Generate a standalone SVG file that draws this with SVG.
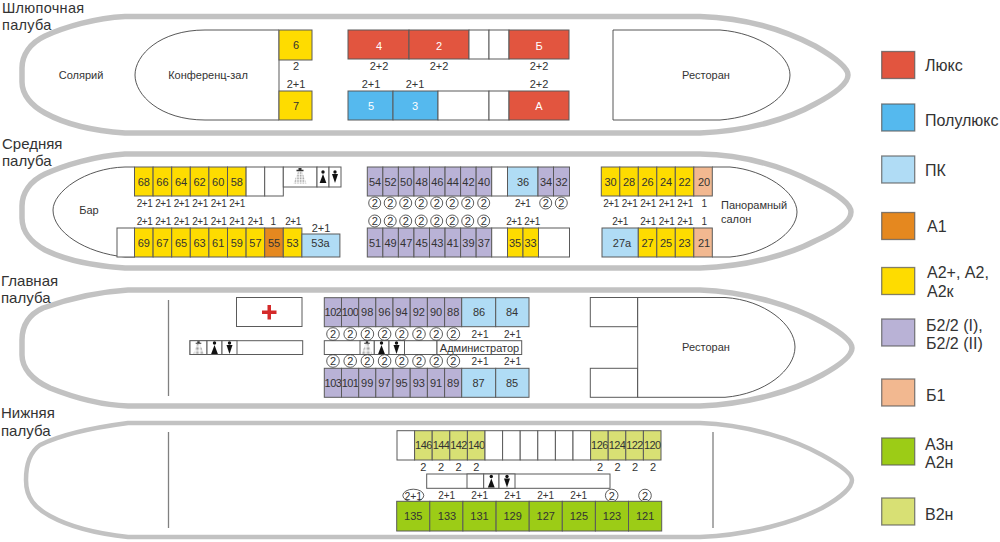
<svg xmlns="http://www.w3.org/2000/svg" width="1000" height="542" viewBox="0 0 1000 542">
<style>
text{font-family:"Liberation Sans",Arial,sans-serif;fill:#333;font-size:11px;text-anchor:middle}
.hull{fill:#fff;stroke:#c2c2c2;stroke-width:5.5}
.room{fill:#fff;stroke:#444;stroke-width:.9}
.line{fill:none;stroke:#808080;stroke-width:1.3}
rect{stroke:#5a5a5a;stroke-width:1}
.w{fill:#fff}.r{fill:#e2553f}.b{fill:#55b9ee}.p{fill:#b0dcf5}.o{fill:#e5881f}.y{fill:#fedc00}.v{fill:#b9b2d6}.s{fill:#f2b890}.g{fill:#9ccc16}.l{fill:#d8e074}
.sm{font-size:10px}
#sredn .sm{font-size:10px;letter-spacing:-.55px}
.ring+text,#sredn .ring+text{font-size:11px;letter-spacing:0}
.t{letter-spacing:-.6px}
.ring{fill:#fff;stroke:#333;stroke-width:.8}
.wt{fill:#fff}
.deck{font-size:15px;text-anchor:start}
.leg{font-size:16px;text-anchor:start}
.sw{stroke-width:1.3;stroke-opacity:.75}
</style>
<defs>
<pattern id="dots" width="1.6" height="1.6" patternUnits="userSpaceOnUse"><circle cx=".5" cy=".5" r=".45" fill="#777"/></pattern>
<g id="shower"><path d="M-1.5,1h3v1.8h2v1.4h-7v-1.4h2z" fill="#333"/><path d="M-2,4.5h4l4.5,12h-13z" fill="url(#dots)"/></g>
<g id="woman"><circle cx="0" cy="-5" r="1.7" fill="#111"/><path d="M0,-3l3.4,9h-6.8z" fill="#111"/></g>
<g id="man"><circle cx="0" cy="-5" r="1.7" fill="#111"/><path d="M-3,-3h6l-3,9z" fill="#111"/></g>
</defs>

<g id="hulls">
<path class="hull" d="M125,16.5H700C750,18 790,33 815,46C836,58 848,68 848,75C848,83 836,93 815,104C790,118 750,131 700,133H125C95,131 65,124 45,113C32,106 22,95 22,82V68C22,55 30,43 45,36C65,27 95,18 125,16.5Z"/>
<path class="hull" d="M125,154H700C750,155 790,170 815,183C840,195 851,205 851,212C851,220 840,230 815,241C790,254 750,266 700,268H125C95,266 65,260 45,250C32,243 22,232 22,218V206C22,193 30,181 45,174C65,165 95,156 125,154Z"/>
<path class="hull" d="M128,290H700C750,292 795,307 822,322C842,333 852,342 852,348C852,355 842,364 822,375C795,390 750,404 700,406H128C100,405 75,398 50,388C32,380 22,368 22,355V340C22,325 30,314 43,308C65,300 95,292 128,290Z"/>
<path class="hull" style="stroke-width:4.5" d="M128,423H700C750,425 795,440 822,455C842,466 852,474 852,480C852,487 842,497 822,508C795,522 750,535 700,537H128C100,534 70,527 50,516C35,508 26,498 26,480C26,465 30,452 40,445C60,435 90,428 128,423Z"/>
</g>

<g id="titles">
<text class="deck" style="font-size:14.5px;letter-spacing:.3px" x="2" y="13">Шлюпочная</text><text class="deck" style="font-size:14.5px;letter-spacing:.3px" x="2" y="29.5">палуба</text>
<text class="deck" x="2" y="149">Средняя</text><text class="deck" x="2" y="166">палуба</text>
<text class="deck" x="1" y="286">Главная</text><text class="deck" x="1" y="303">палуба</text>
<text class="deck" x="1" y="418">Нижняя</text><text class="deck" x="1" y="436">палуба</text>
</g>

<g id="shlyup">
<g id="conf"><path class="room" d="M279,30H205C160,30 135,55 135,75C135,95 160,120 205,120H279"/><path class="line" d="M279,30V120"/><text x="208" y="79">Конференц-зал</text></g>
<text id="solarium" x="81" y="79">Солярий</text>
<g id="c6"><rect class="y" x="279" y="30" width="33" height="30"/><text x="296" y="49">6</text></g>
<g id="c7"><rect class="y" x="279" y="91" width="33" height="29"/><text x="296" y="110">7</text></g>
<text x="296" y="70">2</text><text x="296" y="88">2+1</text>
<g id="c4"><rect class="r" x="348" y="30" width="61" height="29"/><text class="wt" x="379" y="50">4</text></g>
<g id="c2"><rect class="r" x="409" y="30" width="60" height="29"/><text class="wt" x="439" y="50">2</text></g>
<rect class="w" x="469" y="30" width="20" height="29"/><rect class="w" x="489" y="30" width="20" height="29"/>
<g id="cB"><rect class="r" x="509" y="30" width="60" height="29"/><text class="wt" x="539" y="50">Б</text></g>
<g id="c5"><rect class="b" x="348" y="91" width="45" height="29"/><text class="wt" x="371" y="110">5</text></g>
<g id="c3"><rect class="b" x="393" y="91" width="45" height="29"/><text class="wt" x="415" y="110">3</text></g>
<rect class="w" x="438" y="91" width="51" height="29"/><rect class="w" x="489" y="91" width="20" height="29"/>
<g id="cA"><rect class="r" x="509" y="91" width="60" height="29"/><text class="wt" x="539" y="110">А</text></g>
<text x="379" y="70">2+2</text><text x="439" y="70">2+2</text><text x="539" y="70">2+2</text>
<text x="371" y="88">2+1</text><text x="415" y="88">2+1</text><text x="539" y="88">2+2</text>
<g id="rest1"><path class="room" d="M613,30H720C760,33 790,55 790,75C790,97 760,117 720,120H613Z"/><text x="706" y="79">Ресторан</text></g>
</g>

<g id="sredn">
<g id="bar"><path class="room" d="M134.5,167H125C85,168 53,192 53,210C53,232 85,253 125,257H134.5"/><text x="89" y="214">Бар</text></g>
<g id="salon"><path class="room" d="M712,167H730C765,170 797,192 797,212C797,233 765,254 730,257H712"/><text style="text-anchor:start" x="721" y="209">Панорамный</text><text style="text-anchor:start" x="721" y="222.5">салон</text></g>
<g id="c68"><rect class="y" x="134.5" y="167" width="18.6" height="29"/><text x="143.8" y="185.5">68</text></g>
<g id="c66"><rect class="y" x="153.1" y="167" width="18.6" height="29"/><text x="162.4" y="185.5">66</text></g>
<g id="c64"><rect class="y" x="171.7" y="167" width="18.6" height="29"/><text x="181" y="185.5">64</text></g>
<g id="c62"><rect class="y" x="190.3" y="167" width="18.6" height="29"/><text x="199.6" y="185.5">62</text></g>
<g id="c60"><rect class="y" x="208.9" y="167" width="18.6" height="29"/><text x="218.2" y="185.5">60</text></g>
<g id="c58"><rect class="y" x="227.5" y="167" width="18.6" height="29"/><text x="236.8" y="185.5">58</text></g>
<rect class="w" x="246.1" y="167" width="18.6" height="29"/><rect class="w" x="264.7" y="167" width="18.6" height="29"/>
<g id="wc1"><rect class="w" x="283.3" y="167" width="33.7" height="20"/><use href="#shower" x="300" y="167"/><rect class="w" x="317" y="167" width="12" height="20"/><use href="#woman" x="323" y="177"/><rect class="w" x="329" y="167" width="12" height="20"/><use href="#man" x="335" y="177"/></g>
<rect class="w" x="117" y="228" width="17.5" height="29"/>
<g id="c69"><rect class="y" x="134.5" y="228" width="18.6" height="29"/><text x="143.8" y="246.5">69</text></g>
<g id="c67"><rect class="y" x="153.1" y="228" width="18.6" height="29"/><text x="162.4" y="246.5">67</text></g>
<g id="c65"><rect class="y" x="171.7" y="228" width="18.6" height="29"/><text x="181" y="246.5">65</text></g>
<g id="c63"><rect class="y" x="190.3" y="228" width="18.6" height="29"/><text x="199.6" y="246.5">63</text></g>
<g id="c61"><rect class="y" x="208.9" y="228" width="18.6" height="29"/><text x="218.2" y="246.5">61</text></g>
<g id="c59"><rect class="y" x="227.5" y="228" width="18.6" height="29"/><text x="236.8" y="246.5">59</text></g>
<g id="c57"><rect class="y" x="246.1" y="228" width="18.6" height="29"/><text x="255.4" y="246.5">57</text></g>
<g id="c55"><rect class="o" x="264.7" y="228" width="18.6" height="29"/><text x="274" y="246.5">55</text></g>
<g id="c53"><rect class="y" x="283.3" y="228" width="18.6" height="29"/><text x="292.6" y="246.5">53</text></g>
<g id="c53a"><rect class="p" x="301.9" y="234" width="38" height="23"/><text x="320.5" y="246.5">53а</text></g>
<text class="sm" x="144.5" y="207">2+1</text><text class="sm" x="163" y="207">2+1</text><text class="sm" x="181.5" y="207">2+1</text><text class="sm" x="200" y="207">2+1</text><text class="sm" x="218.5" y="207">2+1</text><text class="sm" x="237" y="207">2+1</text>
<text class="sm" x="144.5" y="225">2+1</text><text class="sm" x="163" y="225">2+1</text><text class="sm" x="181.5" y="225">2+1</text><text class="sm" x="200" y="225">2+1</text><text class="sm" x="218.5" y="225">2+1</text><text class="sm" x="237" y="225">2+1</text><text class="sm" x="255.5" y="225">2+1</text><text class="sm" x="273" y="225">1</text><text class="sm" x="293" y="225">2+1</text><text x="321" y="232">2+1</text>
<g id="c54"><rect class="v" x="367.3" y="167" width="15.55" height="29"/><text x="375.1" y="185.5">54</text></g>
<g id="c52"><rect class="v" x="382.85" y="167" width="15.55" height="29"/><text x="390.6" y="185.5">52</text></g>
<g id="c50"><rect class="v" x="398.4" y="167" width="15.55" height="29"/><text x="406.2" y="185.5">50</text></g>
<g id="c48"><rect class="v" x="413.95" y="167" width="15.55" height="29"/><text x="421.7" y="185.5">48</text></g>
<g id="c46"><rect class="v" x="429.5" y="167" width="15.55" height="29"/><text x="437.3" y="185.5">46</text></g>
<g id="c44"><rect class="v" x="445.05" y="167" width="15.55" height="29"/><text x="452.8" y="185.5">44</text></g>
<g id="c42"><rect class="v" x="460.6" y="167" width="15.55" height="29"/><text x="468.4" y="185.5">42</text></g>
<g id="c40"><rect class="v" x="476.15" y="167" width="15.55" height="29"/><text x="483.9" y="185.5">40</text></g>
<rect class="w" x="491.7" y="167" width="15.8" height="29"/>
<g id="c36"><rect class="p" x="507.5" y="167" width="30.5" height="29"/><text x="523" y="185.5">36</text></g>
<g id="c34"><rect class="v" x="538" y="167" width="15.5" height="29"/><text x="546" y="185.5">34</text></g>
<g id="c32"><rect class="v" x="553.5" y="167" width="16" height="29"/><text x="561.5" y="185.5">32</text></g>
<g id="c51"><rect class="v" x="367.3" y="228" width="15.55" height="29"/><text x="375.1" y="246.5">51</text></g>
<g id="c49"><rect class="v" x="382.85" y="228" width="15.55" height="29"/><text x="390.6" y="246.5">49</text></g>
<g id="c47"><rect class="v" x="398.4" y="228" width="15.55" height="29"/><text x="406.2" y="246.5">47</text></g>
<g id="c45"><rect class="v" x="413.95" y="228" width="15.55" height="29"/><text x="421.7" y="246.5">45</text></g>
<g id="c43"><rect class="v" x="429.5" y="228" width="15.55" height="29"/><text x="437.3" y="246.5">43</text></g>
<g id="c41"><rect class="v" x="445.05" y="228" width="15.55" height="29"/><text x="452.8" y="246.5">41</text></g>
<g id="c39"><rect class="v" x="460.6" y="228" width="15.55" height="29"/><text x="468.4" y="246.5">39</text></g>
<g id="c37"><rect class="v" x="476.15" y="228" width="15.55" height="29"/><text x="483.9" y="246.5">37</text></g>
<rect class="w" x="491.7" y="228" width="15.8" height="29"/>
<g id="c35"><rect class="y" x="507.5" y="228" width="15.5" height="29"/><text x="515" y="246.5">35</text></g>
<g id="c33"><rect class="y" x="523" y="228" width="15.5" height="29"/><text x="530.5" y="246.5">33</text></g>
<rect class="w" x="538.5" y="228" width="31" height="29"/>
<g id="rings-mid">
<circle class="ring" cx="374.7" cy="203" r="6"/><text x="374.7" y="207">2</text><circle class="ring" cx="390.2" cy="203" r="6"/><text x="390.2" y="207">2</text><circle class="ring" cx="405.7" cy="203" r="6"/><text x="405.7" y="207">2</text><circle class="ring" cx="421.2" cy="203" r="6"/><text x="421.2" y="207">2</text><circle class="ring" cx="436.7" cy="203" r="6"/><text x="436.7" y="207">2</text><circle class="ring" cx="452.2" cy="203" r="6"/><text x="452.2" y="207">2</text><circle class="ring" cx="467.7" cy="203" r="6"/><text x="467.7" y="207">2</text><circle class="ring" cx="483.7" cy="203" r="6"/><text x="483.7" y="207">2</text>
<circle class="ring" cx="374.7" cy="221" r="6"/><text x="374.7" y="225">2</text><circle class="ring" cx="390.2" cy="221" r="6"/><text x="390.2" y="225">2</text><circle class="ring" cx="405.7" cy="221" r="6"/><text x="405.7" y="225">2</text><circle class="ring" cx="421.2" cy="221" r="6"/><text x="421.2" y="225">2</text><circle class="ring" cx="436.7" cy="221" r="6"/><text x="436.7" y="225">2</text><circle class="ring" cx="452.2" cy="221" r="6"/><text x="452.2" y="225">2</text><circle class="ring" cx="467.7" cy="221" r="6"/><text x="467.7" y="225">2</text><circle class="ring" cx="483.7" cy="221" r="6"/><text x="483.7" y="225">2</text>
<circle class="ring" cx="545.7" cy="203" r="6"/><text x="545.7" y="207">2</text><circle class="ring" cx="561.3" cy="203" r="6"/><text x="561.3" y="207">2</text>
<text class="sm" x="522.7" y="207">2+1</text><text class="sm" x="514" y="225">2+1</text><text class="sm" x="532" y="225">2+1</text>
</g>
<g id="c30"><rect class="y" x="601.3" y="167" width="18.5" height="29"/><text x="610.5" y="185.5">30</text></g>
<g id="c28"><rect class="y" x="619.8" y="167" width="18.5" height="29"/><text x="629" y="185.5">28</text></g>
<g id="c26"><rect class="y" x="638.3" y="167" width="18.5" height="29"/><text x="647.5" y="185.5">26</text></g>
<g id="c24"><rect class="y" x="656.8" y="167" width="18.5" height="29"/><text x="666" y="185.5">24</text></g>
<g id="c22"><rect class="y" x="675.3" y="167" width="18.5" height="29"/><text x="684.5" y="185.5">22</text></g>
<g id="c20"><rect class="s" x="693.8" y="167" width="18.5" height="29"/><text x="704" y="185.5">20</text></g>
<g id="c27a"><rect class="p" x="602" y="228" width="36.3" height="29"/><text x="622" y="246.5">27а</text></g>
<g id="c27"><rect class="y" x="638.3" y="228" width="18.5" height="29"/><text x="647.5" y="246.5">27</text></g>
<g id="c25"><rect class="y" x="656.8" y="228" width="18.5" height="29"/><text x="666" y="246.5">25</text></g>
<g id="c23"><rect class="y" x="675.3" y="228" width="18.5" height="29"/><text x="684.5" y="246.5">23</text></g>
<g id="c21"><rect class="s" x="693.8" y="228" width="18.5" height="29"/><text x="704" y="246.5">21</text></g>
<text class="sm" x="611" y="207">2+1</text><text class="sm" x="629.5" y="207">2+1</text><text class="sm" x="648" y="207">2+1</text><text class="sm" x="666.5" y="207">2+1</text><text class="sm" x="685" y="207">2+1</text><text class="sm" x="704" y="207">1</text>
<text class="sm" x="620" y="225">2+1</text><text class="sm" x="648" y="225">2+1</text><text class="sm" x="666.5" y="225">2+1</text><text class="sm" x="685" y="225">2+1</text><text class="sm" x="704" y="225">1</text>
</g>

<g id="glavn">
<path class="line" d="M168.5,300V396"/>
<g id="med"><rect class="w" x="236.5" y="297.5" width="65.5" height="29"/><path d="M262,310.5h5.5v-5.5h3.5v5.5h5.5v3.5h-5.5v5.5h-3.5v-5.5h-5.5z" fill="#d42a2a"/></g>
<g id="wc2"><rect class="w" x="190" y="340.7" width="112.7" height="13.8"/><rect class="w" x="190" y="340.7" width="17" height="13.8"/><use href="#shower" transform="translate(198.5,340.5) scale(.8)"/><rect class="w" x="207" y="340.7" width="15" height="13.8"/><use href="#woman" x="214.5" y="348"/><rect class="w" x="222" y="340.7" width="15" height="13.8"/><use href="#man" x="229.5" y="348"/></g>
<g id="c102"><rect class="v" x="324.3" y="297.7" width="17.2" height="29"/><text class="t" x="332.9" y="316">102</text></g>
<g id="c100"><rect class="v" x="341.5" y="297.7" width="17.2" height="29"/><text class="t" x="350.1" y="316">100</text></g>
<g id="c98"><rect class="v" x="358.7" y="297.7" width="17.1" height="29"/><text x="367.2" y="316">98</text></g>
<g id="c96"><rect class="v" x="375.8" y="297.7" width="17.2" height="29"/><text x="384.4" y="316">96</text></g>
<g id="c94"><rect class="v" x="393" y="297.7" width="17.2" height="29"/><text x="401.6" y="316">94</text></g>
<g id="c92"><rect class="v" x="410.2" y="297.7" width="17.2" height="29"/><text x="418.8" y="316">92</text></g>
<g id="c90"><rect class="v" x="427.4" y="297.7" width="17.2" height="29"/><text x="436" y="316">90</text></g>
<g id="c88"><rect class="v" x="444.6" y="297.7" width="17.1" height="29"/><text x="453.2" y="316">88</text></g>
<g id="c86"><rect class="p" x="461.7" y="297.7" width="34" height="29"/><text x="479" y="316">86</text></g>
<g id="c84"><rect class="p" x="495.7" y="297.7" width="33.3" height="29"/><text x="512" y="316">84</text></g>
<g id="c103"><rect class="v" x="324.3" y="368.3" width="17.2" height="29"/><text class="t" x="332.9" y="387">103</text></g>
<g id="c101"><rect class="v" x="341.5" y="368.3" width="17.2" height="29"/><text class="t" x="350.1" y="387">101</text></g>
<g id="c99"><rect class="v" x="358.7" y="368.3" width="17.1" height="29"/><text x="367.2" y="387">99</text></g>
<g id="c97"><rect class="v" x="375.8" y="368.3" width="17.2" height="29"/><text x="384.4" y="387">97</text></g>
<g id="c95"><rect class="v" x="393" y="368.3" width="17.2" height="29"/><text x="401.6" y="387">95</text></g>
<g id="c93"><rect class="v" x="410.2" y="368.3" width="17.2" height="29"/><text x="418.8" y="387">93</text></g>
<g id="c91"><rect class="v" x="427.4" y="368.3" width="17.2" height="29"/><text x="436" y="387">91</text></g>
<g id="c89"><rect class="v" x="444.6" y="368.3" width="17.1" height="29"/><text x="453.2" y="387">89</text></g>
<g id="c87"><rect class="p" x="461.7" y="368.3" width="34" height="29"/><text x="478.5" y="387">87</text></g>
<g id="c85"><rect class="p" x="495.7" y="368.3" width="33.3" height="29"/><text x="512" y="387">85</text></g>
<g id="wc3"><rect class="w" x="324.3" y="340.7" width="112.7" height="13.8"/><rect class="w" x="360" y="340.7" width="14.3" height="13.8"/><use href="#shower" transform="translate(367,340.5) scale(.8)"/><rect class="w" x="374.3" y="340.7" width="14.7" height="13.8"/><use href="#woman" x="381.5" y="348"/><rect class="w" x="389" y="340.7" width="15.5" height="13.8"/><use href="#man" x="396.5" y="348"/></g>
<g id="admin"><rect class="w" x="437" y="340.7" width="84.7" height="13.8"/><text x="479.5" y="351.5">Администратор</text></g>
<g id="rings-main">
<circle class="ring" cx="333" cy="334" r="6.3"/><text x="333" y="338">2</text><circle class="ring" cx="350.2" cy="334" r="6.3"/><text x="350.2" y="338">2</text><circle class="ring" cx="367.4" cy="334" r="6.3"/><text x="367.4" y="338">2</text><circle class="ring" cx="384.6" cy="334" r="6.3"/><text x="384.6" y="338">2</text><circle class="ring" cx="401.8" cy="334" r="6.3"/><text x="401.8" y="338">2</text><circle class="ring" cx="419" cy="334" r="6.3"/><text x="419" y="338">2</text><circle class="ring" cx="436.2" cy="334" r="6.3"/><text x="436.2" y="338">2</text><circle class="ring" cx="453.4" cy="334" r="6.3"/><text x="453.4" y="338">2</text>
<circle class="ring" cx="333" cy="361" r="6.3"/><text x="333" y="365">2</text><circle class="ring" cx="350.2" cy="361" r="6.3"/><text x="350.2" y="365">2</text><circle class="ring" cx="367.4" cy="361" r="6.3"/><text x="367.4" y="365">2</text><circle class="ring" cx="384.6" cy="361" r="6.3"/><text x="384.6" y="365">2</text><circle class="ring" cx="401.8" cy="361" r="6.3"/><text x="401.8" y="365">2</text><circle class="ring" cx="419" cy="361" r="6.3"/><text x="419" y="365">2</text><circle class="ring" cx="436.2" cy="361" r="6.3"/><text x="436.2" y="365">2</text><circle class="ring" cx="453.4" cy="361" r="6.3"/><text x="453.4" y="365">2</text>
<text class="sm" x="480" y="337.5">2+1</text><text class="sm" x="512.5" y="337.5">2+1</text><text class="sm" x="480" y="365">2+1</text><text class="sm" x="512.5" y="365">2+1</text>
</g>
<rect class="w" x="590.3" y="297.5" width="47.4" height="29.2"/><rect class="w" x="590.3" y="368.3" width="47.4" height="29"/>
<g id="rest2"><path class="room" d="M637.7,297.5H725C765,300 795,325 795,347C795,370 765,394 725,397.3H637.7Z"/><text x="706" y="351">Ресторан</text></g>
</g>

<g id="nizhn">
<path class="line" d="M168.5,432V528M713,432V528"/>
<rect class="w" x="397" y="430.7" width="17.6" height="29.3"/>
<g id="c146"><rect class="l" x="414.6" y="430.7" width="17.6" height="29.3"/><text class="t" x="423.4" y="449">146</text></g>
<g id="c144"><rect class="l" x="432.2" y="430.7" width="17.6" height="29.3"/><text class="t" x="441" y="449">144</text></g>
<g id="c142"><rect class="l" x="449.8" y="430.7" width="17.6" height="29.3"/><text class="t" x="458.6" y="449">142</text></g>
<g id="c140"><rect class="l" x="467.4" y="430.7" width="17.6" height="29.3"/><text class="t" x="476.2" y="449">140</text></g>
<rect class="w" x="485" y="430.7" width="17.6" height="29.3"/><rect class="w" x="502.6" y="430.7" width="17.6" height="29.3"/><rect class="w" x="520.2" y="430.7" width="17.6" height="29.3"/><rect class="w" x="537.8" y="430.7" width="17.6" height="29.3"/><rect class="w" x="555.4" y="430.7" width="17.6" height="29.3"/><rect class="w" x="573" y="430.7" width="17.6" height="29.3"/>
<g id="c126"><rect class="l" x="590.6" y="430.7" width="17.6" height="29.3"/><text class="t" x="599.4" y="449">126</text></g>
<g id="c124"><rect class="l" x="608.2" y="430.7" width="17.6" height="29.3"/><text class="t" x="617" y="449">124</text></g>
<g id="c122"><rect class="l" x="625.8" y="430.7" width="17.6" height="29.3"/><text class="t" x="634.6" y="449">122</text></g>
<g id="c120"><rect class="l" x="643.4" y="430.7" width="17.6" height="29.3"/><text class="t" x="652.2" y="449">120</text></g>
<text x="423.4" y="471">2</text><text x="441" y="471">2</text><text x="458.6" y="471">2</text><text x="476.2" y="471">2</text><text x="600" y="471">2</text><text x="617.5" y="471">2</text><text x="635" y="471">2</text><text x="653" y="471">2</text>
<g id="wc4"><rect class="w" x="426.7" y="474" width="183.3" height="14.3"/><rect class="w" x="467" y="474" width="16.7" height="14.3"/><rect class="w" x="483.7" y="474" width="15.3" height="14.3"/><use href="#woman" x="491.3" y="481.5"/><rect class="w" x="499" y="474" width="16" height="14.3"/><use href="#man" x="507" y="481.5"/></g>
<ellipse class="ring" cx="413.3" cy="495.5" rx="10.5" ry="6.3"/><text style="font-size:10.5px" x="413.3" y="499.5">2+1</text>
<text class="sm" x="446.7" y="499">2+1</text><text class="sm" x="479.7" y="499">2+1</text><text class="sm" x="512.7" y="499">2+1</text><text class="sm" x="545.7" y="499">2+1</text><text class="sm" x="578.7" y="499">2+1</text>
<circle class="ring" cx="611.7" cy="495.5" r="6.3"/><text x="611.7" y="499.5">2</text><circle class="ring" cx="645" cy="495.5" r="6.3"/><text x="645" y="499.5">2</text>
<g id="c135"><rect class="g" x="396.7" y="501.3" width="33.1" height="29.7"/><text x="413.3" y="520">135</text></g>
<g id="c133"><rect class="g" x="429.8" y="501.3" width="33.1" height="29.7"/><text x="447" y="520">133</text></g>
<g id="c131"><rect class="g" x="462.9" y="501.3" width="33.2" height="29.7"/><text x="479.5" y="520">131</text></g>
<g id="c129"><rect class="g" x="496.1" y="501.3" width="33.1" height="29.7"/><text x="512.6" y="520">129</text></g>
<g id="c127"><rect class="g" x="529.2" y="501.3" width="33.1" height="29.7"/><text x="545.8" y="520">127</text></g>
<g id="c125"><rect class="g" x="562.3" y="501.3" width="33.1" height="29.7"/><text x="578.9" y="520">125</text></g>
<g id="c123"><rect class="g" x="595.4" y="501.3" width="33.1" height="29.7"/><text x="612" y="520">123</text></g>
<g id="c121"><rect class="g" x="628.5" y="501.3" width="33.2" height="29.7"/><text x="645.1" y="520">121</text></g>
</g>

<g id="legend">
<g id="lg1"><rect class="r sw" x="881.7" y="51.5" width="33" height="27"/><text class="leg" x="925" y="71">Люкс</text></g>
<g id="lg2"><rect class="b sw" x="881.7" y="104" width="33" height="27"/><text class="leg" x="925" y="126">Полулюкс</text></g>
<g id="lg3"><rect class="p sw" x="881.7" y="156" width="33" height="27"/><text class="leg" x="925" y="176">ПК</text></g>
<g id="lg4"><rect class="o sw" x="881.7" y="212.5" width="33" height="27"/><text class="leg" x="927" y="232">А1</text></g>
<g id="lg5"><rect class="y sw" x="881.7" y="267.5" width="33" height="27"/><text class="leg" x="927" y="278">А2+, А2,</text><text class="leg" x="927" y="297">А2к</text></g>
<g id="lg6"><rect class="v sw" x="881.7" y="319" width="33" height="27"/><text class="leg" x="926" y="331">Б2/2 (I),</text><text class="leg" x="926" y="349">Б2/2 (II)</text></g>
<g id="lg7"><rect class="s sw" x="881.7" y="379" width="33" height="27"/><text class="leg" x="926" y="401">Б1</text></g>
<g id="lg8"><rect class="g sw" x="881.7" y="438" width="33" height="27"/><text class="leg" x="925" y="450">А3н</text><text class="leg" x="925" y="468">А2н</text></g>
<g id="lg9"><rect class="l sw" x="881.7" y="498" width="33" height="27"/><text class="leg" x="925" y="520">В2н</text></g>
</g>
</svg>
